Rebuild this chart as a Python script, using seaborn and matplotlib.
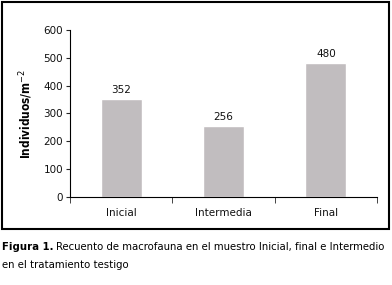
import matplotlib
matplotlib.use("Agg")
import matplotlib.pyplot as plt
import seaborn as sns
import pandas as pd
from matplotlib.patches import Rectangle

# Data
muestras = ["Inicial", "Intermedia", "Final"]
individuos = [352, 256, 480]
y_ticks = [0, 100, 200, 300, 400, 500, 600]

df = pd.DataFrame({"muestra": muestras, "individuos": individuos})

sns.set_style("white")
plt.rcParams['font.family'] = ['DejaVu Sans']

fig = plt.figure(figsize=(3.92, 2.85), dpi=100)
ax = fig.add_axes([0.1786, 0.3088, 0.7832, 0.5860])

sns.barplot(data=df, x="muestra", y="individuos", color="#c1bdbf",
            width=0.4, saturation=1, ax=ax)

for i, v in enumerate(individuos):
    ax.text(i, v + 14, str(v), ha="center", va="bottom", fontsize=7.5, color="#111111")

ax.set_ylim(0, 600)
ax.set_xlim(-0.5, 2.5)
ax.set_yticks(y_ticks)
ax.set_xlabel("")
ax.set_ylabel("Individuos/m$^{-2}$", fontsize=8.5, fontweight="bold", labelpad=6,
              fontstretch="condensed", color="black")
ax.tick_params(axis="y", labelsize=7.5, length=3, direction="out", left=True, pad=2,
               labelcolor="#111111")
ax.tick_params(axis="x", labelsize=7.5, length=0, pad=8, labelcolor="#111111")
# category boundary ticks on x axis
ax.set_xticks([-0.5, 0.5, 1.5, 2.5], minor=True)
ax.tick_params(axis="x", which="minor", length=4, direction="out", bottom=True)
for s in ["top", "right"]:
    ax.spines[s].set_visible(False)
for s in ["left", "bottom"]:
    ax.spines[s].set_color("black")
    ax.spines[s].set_linewidth(0.8)

# outer frame
fig.patches.append(Rectangle((1.5 / 392, 1 - 229 / 285), 387 / 392, 227.5 / 285,
                             transform=fig.transFigure, fill=False,
                             edgecolor="black", linewidth=1.5))

# caption, sized so the first line fits the frame width
y1 = 1 - 247 / 285
y2 = 1 - 265 / 285
bold = fig.text(2 / 392, y1, "Figura 1.", fontsize=8.5, fontweight="bold",
                va="center", ha="left", fontstretch="condensed", color="black")
rest = fig.text(0, y1, "Recuento de macrofauna en el muestro Inicial, final e Intermedio",
                fontsize=8.5, va="center", ha="left", fontstretch="condensed", color="black")
line2 = fig.text(2 / 392, y2, "en el tratamiento testigo",
                 fontsize=8.5, va="center", ha="left", fontstretch="condensed", color="black")

renderer = fig.canvas.get_renderer()
wb = bold.get_window_extent(renderer).width
wr = rest.get_window_extent(renderer).width
scale = min(1.0, (388 - 2 - 3) / (wb + wr))
for t in (bold, rest, line2):
    t.set_fontsize(8.5 * scale)
wb = bold.get_window_extent(renderer).width
rest.set_x((2 + wb + 3) / 392)

fig.savefig("out.png", dpi=100)
